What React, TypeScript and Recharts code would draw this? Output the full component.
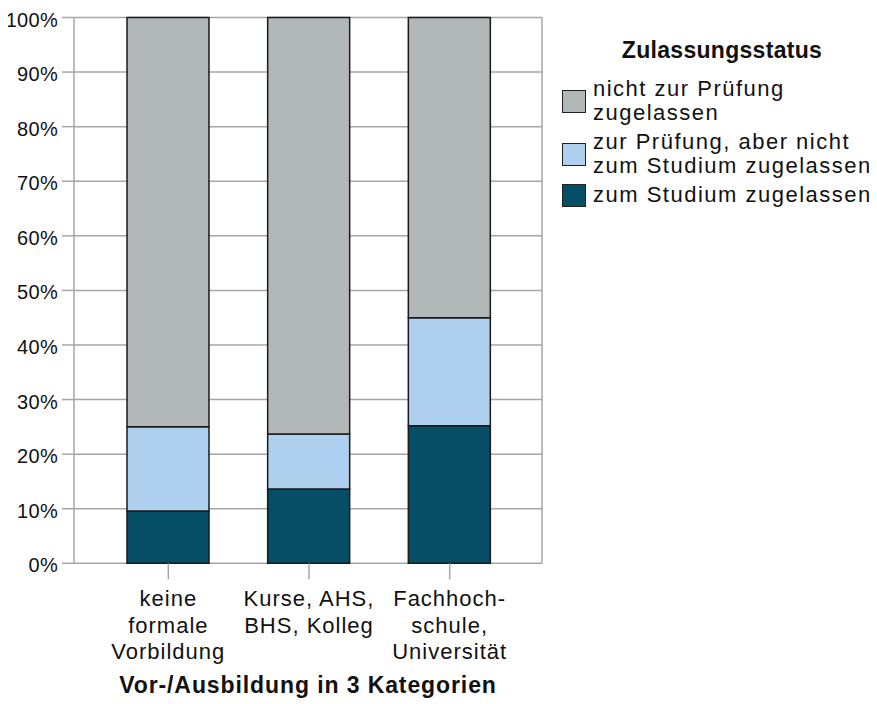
import { BarChart, Bar, XAxis, YAxis, CartesianGrid, Label } from 'recharts'

const categories = ['keine\nformale\nVorbildung', 'Kurse, AHS,\nBHS, Kolleg', 'Fachhoch-\nschule,\nUniversität']
const studium = [9.6, 13.6, 25.2]
const pruefung = [15.4, 10.1, 19.8]
const nicht = [75.0, 76.3, 55.0]
const yTicks = [0, 10, 20, 30, 40, 50, 60, 70, 80, 90, 100]

const seriesNames = {
  nicht: 'nicht zur Prüfung\nzugelassen',
  pruefung: 'zur Prüfung, aber nicht\nzum Studium zugelassen',
  studium: 'zum Studium zugelassen',
}

const colors = {
  nicht: '#b2b7b7',
  pruefung: '#aecfee',
  studium: '#054e66',
}

const data = categories.map((name, i) => ({
  name,
  studium: studium[i],
  pruefung: pruefung[i],
  nicht: nicht[i],
}))

const FONT = '"Liberation Sans", Arial, sans-serif'
const GRID = '#a6a6a6'

function CategoryTick(props: any) {
  const { x, y, payload } = props
  const lines = String(payload.value).split('\n')
  return (
    <text x={x} y={y} textAnchor="middle" fill="#111" fontSize={22} fontFamily={FONT} letterSpacing={1}>
      {lines.map((l, i) => (
        <tspan key={i} x={x} dy={i === 0 ? 24.7 : 26.7}>
          {l}
        </tspan>
      ))}
    </text>
  )
}

function PercentTick(props: any) {
  const { x, y, payload } = props
  return (
    <text x={x} y={y} dy={9} textAnchor="end" fill="#111" fontSize={20} fontFamily={FONT} letterSpacing={0.3}>
      {`${payload.value}%`}
    </text>
  )
}

function LegendBox() {
  const order: (keyof typeof colors)[] = ['nicht', 'pruefung', 'studium']
  return (
    <>
      <div
        style={{
          position: 'absolute',
          left: 562,
          top: 38.8,
          width: 320,
          textAlign: 'center',
          fontWeight: 'bold',
          fontSize: 23,
          lineHeight: '23px',
          letterSpacing: 0.3,
          color: '#111',
        }}
      >
        Zulassungsstatus
      </div>
      <div style={{ position: 'absolute', left: 562, top: 77.4, width: 315 }}>
        {order.map((k) => (
          <div key={k} style={{ display: 'flex', alignItems: 'center', marginBottom: 5 }}>
            <div
              style={{
                width: 24,
                height: 23,
                boxSizing: 'border-box',
                border: '1.5px solid #222',
                background: colors[k],
                marginRight: 7,
                flex: 'none',
              }}
            />
            <div style={{ fontSize: 22, lineHeight: '24px', letterSpacing: 1.5, color: '#111', whiteSpace: 'pre' }}>
              {seriesNames[k]}
            </div>
          </div>
        ))}
      </div>
    </>
  )
}

export default function App() {
  return (
    <div style={{ position: 'relative', width: 868, height: 702, margin: '-8px 0 0 -8px', fontFamily: FONT }}>
      <BarChart width={868} height={702} data={data} margin={{ top: 17.5, right: 326, bottom: 4.7, left: 0 }}>
        <CartesianGrid
          stroke={GRID}
          strokeWidth={1.5}
          verticalCoordinatesGenerator={({ offset }: any) => [offset.left, offset.left + offset.width]}
        />
        <XAxis
          dataKey="name"
          type="category"
          height={134}
          axisLine={false}
          tickLine={{ stroke: GRID, strokeWidth: 1.5 }}
          tickSize={16}
          tickMargin={2}
          padding={{ left: 24, right: 22 }}
          tick={<CategoryTick />}
          interval={0}
        >
          <Label
            value="Vor-/Ausbildung in 3 Kategorien"
            position="insideBottom"
            offset={4}
            style={{ fontWeight: 'bold', fontSize: 23, letterSpacing: 0.9, fill: '#111', fontFamily: FONT }}
          />
        </XAxis>
        <YAxis
          width={74}
          domain={[0, 100]}
          ticks={yTicks}
          interval={0}
          axisLine={false}
          tickLine={{ stroke: GRID, strokeWidth: 1.5 }}
          tickSize={12}
          tickMargin={4}
          tick={<PercentTick />}
        />
        <Bar dataKey="studium" stackId="a" fill={colors.studium} stroke="#1a1a1a" strokeWidth={1.5} barSize={82} isAnimationActive={false} />
        <Bar dataKey="pruefung" stackId="a" fill={colors.pruefung} stroke="#1a1a1a" strokeWidth={1.5} barSize={82} isAnimationActive={false} />
        <Bar dataKey="nicht" stackId="a" fill={colors.nicht} stroke="#1a1a1a" strokeWidth={1.5} barSize={82} isAnimationActive={false} />
      </BarChart>
      <LegendBox />
    </div>
  )
}
